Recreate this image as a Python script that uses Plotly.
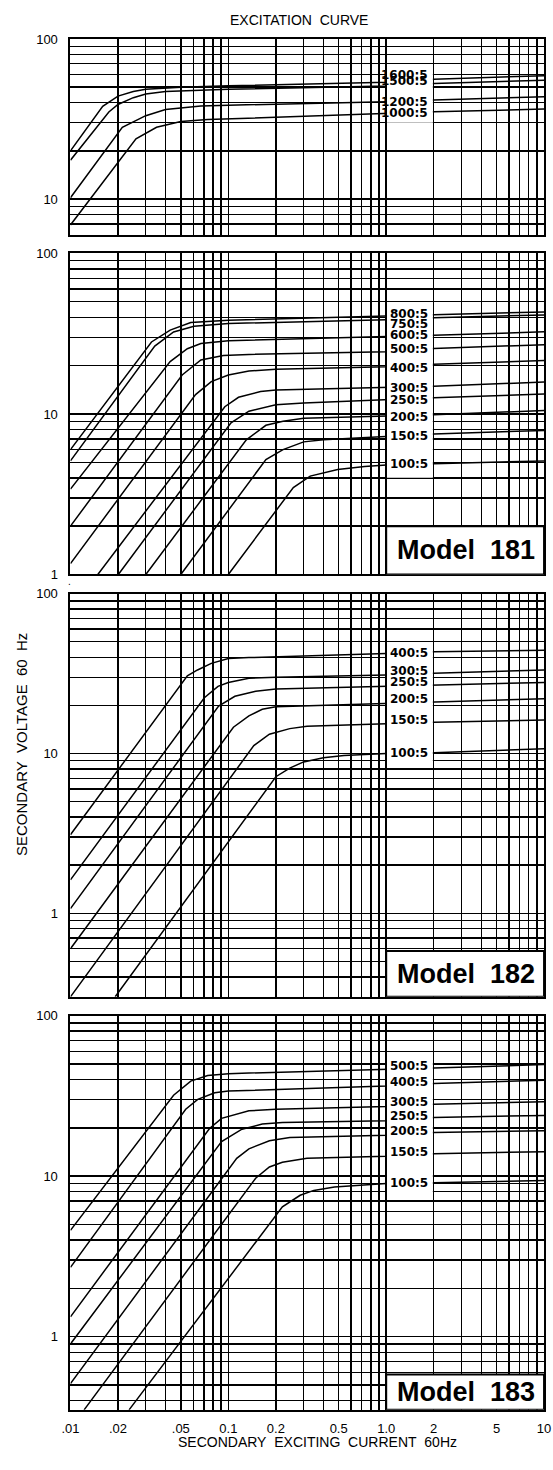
import numpy as np
import plotly.graph_objects as go

# ---------------- grid / tick definitions ----------------
X_GRID = [0.01, 0.02, 0.03, 0.04, 0.05, 0.06, 0.07, 0.08, 0.09,
          0.1, 0.2, 0.3, 0.4, 0.5, 0.6, 0.7, 0.8, 0.9,
          1, 2, 3, 4, 5, 6, 7, 8, 9, 10]
X_TEXT = ['.01', '.02', '', '', '.05', '', '', '', '',
          '0.1', '0.2', '', '', '0.5', '', '', '', '',
          '1.0', '2', '', '', '5', '', '', '', '', '10']
Y_GRID = [0.3, 0.4, 0.5, 0.6, 0.7, 0.8, 0.9,
          1, 2, 3, 4, 5, 6, 7, 8, 9,
          10, 20, 30, 40, 50, 60, 70, 80, 90, 100]
Y_TEXT = ['', '', '', '', '', '', '',
          '1', '', '', '', '', '', '', '', '',
          '10', '', '', '', '', '', '', '', '', '100']

# ---------------- panel 1 (top) ----------------
P1_1600_X = [0.01, 0.016, 0.02, 0.025, 0.03, 0.05, 0.1, 1, 2, 10]
P1_1600_Y = [20, 38, 44, 47, 48.5, 50, 51, 53.7, 56, 59]
P1_1500_X = [0.01, 0.0175, 0.02, 0.025, 0.03, 0.04, 0.1, 1, 2, 10]
P1_1500_Y = [17.5, 35, 39, 43, 45.3, 47, 48.5, 50.8, 52.7, 55.3]
P1_1200_X = [0.01, 0.0213, 0.03, 0.04, 0.067, 0.1, 1, 2, 10]
P1_1200_Y = [10.2, 28.1, 33.2, 36.3, 38.2, 38.6, 40.5, 41.6, 43.6]
P1_1000_X = [0.01, 0.026, 0.0351, 0.05, 0.074, 0.1, 1, 2, 10]
P1_1000_Y = [6.9, 23.8, 28.1, 30.5, 31.4, 31.7, 34.4, 35.1, 36.5]

P1_LABELS = ['1600:5', '1500:5', '1200:5', '1000:5']
P1_LABEL_Y = [60, 55, 40.5, 34.5]

# ---------------- panel 2 (Model 181) ----------------
P2_800_X = [0.01, 0.0326, 0.0428, 0.0578, 0.1, 1, 2, 10]
P2_800_Y = [6.0, 28.1, 33.3, 37.1, 38.4, 40.5, 41.5, 43.2]
P2_750_X = [0.01, 0.0342, 0.045, 0.0606, 0.1, 1, 2, 10]
P2_750_Y = [5.1, 26.5, 32.4, 35.2, 36.6, 38.7, 39.8, 41.4]
P2_600_X = [0.01, 0.0428, 0.055, 0.067, 0.1, 1, 2, 10]
P2_600_Y = [3.4, 21.2, 25.5, 27.5, 28.6, 30.2, 30.9, 32.5]
P2_500_X = [0.01, 0.051, 0.067, 0.093, 0.135, 1, 2, 10]
P2_500_Y = [2.0, 17.5, 21.7, 23.1, 23.5, 24.4, 25.6, 27.0]
P2_400_X = [0.01, 0.062, 0.078, 0.1, 0.135, 0.2, 1, 2, 10]
P2_400_Y = [1.17, 13.2, 15.9, 17.5, 18.5, 19.0, 19.7, 20.4, 21.5]
P2_300_X = [0.0149, 0.095, 0.116, 0.16, 0.2, 1, 2, 10]
P2_300_Y = [1.0, 11.1, 12.7, 13.8, 14.1, 14.7, 14.9, 15.8]
P2_250_X = [0.0201, 0.104, 0.135, 0.2, 0.3, 1, 2, 10]
P2_250_Y = [1.0, 8.8, 10.4, 11.4, 11.7, 12.3, 12.6, 13.3]
P2_200_X = [0.03, 0.13, 0.173, 0.222, 0.3, 1, 2, 10]
P2_200_Y = [1.0, 6.9, 8.5, 9.0, 9.4, 9.7, 9.9, 10.5]
P2_150_X = [0.05, 0.173, 0.222, 0.3, 0.4, 1, 2, 10]
P2_150_Y = [1.0, 5.2, 6.0, 6.7, 6.9, 7.2, 7.5, 7.9]
P2_100_X = [0.1, 0.258, 0.33, 0.493, 0.73, 1, 2, 10]
P2_100_Y = [1.0, 3.48, 4.1, 4.5, 4.7, 4.8, 4.9, 5.1]

P2_LABELS = ['800:5', '750:5', '600:5', '500:5', '400:5',
             '300:5', '250:5', '200:5', '150:5', '100:5']
P2_LABEL_Y = [42, 36.5, 31, 25.3, 19.3, 14.5, 12.3, 9.6, 7.3, 4.9]

# ---------------- panel 3 (Model 182) ----------------
P3_400_X = [0.01, 0.055, 0.0638, 0.078, 0.1, 0.135, 1, 2, 10]
P3_400_Y = [3.1, 30.6, 33.3, 36.6, 39.3, 39.8, 42.2, 43.3, 44.3]
P3_300_X = [0.01, 0.0705, 0.086, 0.1, 0.135, 0.2, 1, 2, 10]
P3_300_Y = [1.62, 22.3, 26.3, 27.8, 29.6, 30.0, 31.0, 31.8, 33.3]
P3_250_X = [0.01, 0.0868, 0.11, 0.149, 0.2, 1, 2, 10]
P3_250_Y = [1.07, 19.8, 22.8, 24.5, 25.3, 26.3, 26.9, 27.8]
P3_200_X = [0.01, 0.1077, 0.135, 0.164, 0.2, 1, 2, 10]
P3_200_Y = [0.6, 14.6, 17.2, 18.9, 19.6, 20.5, 21.0, 22.0]
P3_150_X = [0.01, 0.145, 0.182, 0.245, 0.315, 1, 2, 10]
P3_150_Y = [0.3, 11.2, 13.2, 14.3, 14.8, 15.3, 15.7, 16.2]
P3_100_X = [0.0192, 0.2, 0.245, 0.3, 0.4, 0.54, 1, 2, 10]
P3_100_Y = [0.3, 7.15, 8.1, 8.85, 9.4, 9.7, 10.0, 10.1, 10.7]

P3_LABELS = ['400:5', '300:5', '250:5', '200:5', '150:5', '100:5']
P3_LABEL_Y = [42.7, 32.7, 28.1, 21.8, 16.1, 10.1]

# ---------------- panel 4 (Model 183) ----------------
P4_500_X = [0.01, 0.045, 0.0578, 0.074, 0.1, 1, 2, 10]
P4_500_Y = [4.6, 31.9, 39.1, 42.3, 43.5, 46.1, 47.2, 49.5]
P4_400_X = [0.01, 0.0537, 0.064, 0.082, 0.1, 1, 2, 10]
P4_400_Y = [2.7, 26.1, 30.1, 33.1, 33.9, 36.4, 37.8, 39.6]
P4_300_X = [0.01, 0.076, 0.0906, 0.135, 0.2, 1, 2, 10]
P4_300_Y = [1.33, 19.8, 22.9, 25.5, 26.1, 27.1, 28.0, 29.1]
P4_250_X = [0.01, 0.0906, 0.122, 0.164, 0.22, 1, 2, 10]
P4_250_Y = [0.9, 16.4, 19.6, 21.1, 21.6, 22.1, 23.2, 23.9]
P4_200_X = [0.01, 0.113, 0.135, 0.182, 0.245, 1, 2, 10]
P4_200_Y = [0.51, 12.9, 14.8, 16.6, 17.4, 18.0, 18.7, 19.2]
P4_150_X = [0.0122, 0.149, 0.182, 0.22, 0.315, 1, 2, 10]
P4_150_Y = [0.35, 9.7, 11.4, 12.2, 12.9, 13.3, 13.8, 14.2]
P4_100_X = [0.0235, 0.22, 0.285, 0.348, 0.47, 1, 2, 10]
P4_100_Y = [0.35, 6.43, 7.6, 8.15, 8.55, 8.98, 9.1, 9.4]

P4_LABELS = ['500:5', '400:5', '300:5', '250:5', '200:5', '150:5', '100:5']
P4_LABEL_Y = [48.4, 38.7, 29.1, 23.7, 19.1, 14.1, 9.1]

MODEL_TEXT = [None, 'Model\u00a0\u00a0181', 'Model\u00a0\u00a0182', 'Model\u00a0\u00a0183']

# ---------------- layout geometry (pixels of the 553x1470 page) ----------------
W, H = 553, 1470
X_DOMAIN = [63.3 / W, 551.0 / W]
PANEL_PX = [(32.3, 230.0), (249.0, 573.3), (592.7, 1000.0), (1019.0, 1417.3)]
Y_MIN = [6, 1, 0.3, 0.35]
LABEL_BOX = [(30, 64), (4, 49), (8.3, 49), (7.5, 53)]
MODEL_BOX = [None, (1, 2), (0.3, 0.58), (0.35, 0.58)]

PANELS = [
    [(P1_1600_X, P1_1600_Y), (P1_1500_X, P1_1500_Y), (P1_1200_X, P1_1200_Y), (P1_1000_X, P1_1000_Y)],
    [(P2_800_X, P2_800_Y), (P2_750_X, P2_750_Y), (P2_600_X, P2_600_Y), (P2_500_X, P2_500_Y),
     (P2_400_X, P2_400_Y), (P2_300_X, P2_300_Y), (P2_250_X, P2_250_Y), (P2_200_X, P2_200_Y),
     (P2_150_X, P2_150_Y), (P2_100_X, P2_100_Y)],
    [(P3_400_X, P3_400_Y), (P3_300_X, P3_300_Y), (P3_250_X, P3_250_Y), (P3_200_X, P3_200_Y),
     (P3_150_X, P3_150_Y), (P3_100_X, P3_100_Y)],
    [(P4_500_X, P4_500_Y), (P4_400_X, P4_400_Y), (P4_300_X, P4_300_Y), (P4_250_X, P4_250_Y),
     (P4_200_X, P4_200_Y), (P4_150_X, P4_150_Y), (P4_100_X, P4_100_Y)],
]
LABELS = [(P1_LABELS, P1_LABEL_Y), (P2_LABELS, P2_LABEL_Y), (P3_LABELS, P3_LABEL_Y), (P4_LABELS, P4_LABEL_Y)]

FONT = 'Liberation Sans, Arial, Helvetica, sans-serif'
LABEL_FONT = 'DejaVu Sans, Liberation Sans, sans-serif'

fig = go.Figure()
layout = dict(
    width=W, height=H, autosize=False,
    margin=dict(l=0, r=0, t=0, b=0),
    paper_bgcolor='white', plot_bgcolor='white',
    showlegend=False,
    font=dict(family=FONT, size=12, color='black'),
)

annotations = []
shapes = []

for i in range(4):
    n = i + 1
    xa = 'x' if n == 1 else f'x{n}'
    ya = 'y' if n == 1 else f'y{n}'
    top, bot = PANEL_PX[i]
    ydom = [1 - bot / H, 1 - top / H]
    layout[f'xaxis{"" if n == 1 else n}'] = dict(
        type='log', range=[-2, 1], domain=X_DOMAIN, anchor=ya,
        tickmode='array', tickvals=X_GRID, ticktext=X_TEXT,
        showticklabels=(n == 4), ticks='', ticklabelstandoff=6,
        ticklabeloverflow='allow',
        tickfont=dict(size=13, family=FONT, color='black'),
        showgrid=True, gridcolor='black', gridwidth=1.4,
        showline=True, mirror=True, linecolor='black', linewidth=2,
        zeroline=False, fixedrange=True,
    )
    layout[f'yaxis{"" if n == 1 else n}'] = dict(
        type='log', range=[np.log10(Y_MIN[i]), 2], domain=ydom, anchor=xa,
        tickmode='array', tickvals=Y_GRID, ticktext=Y_TEXT,
        ticks='', ticklabelstandoff=8,
        tickfont=dict(size=13, family=FONT, color='black'),
        showgrid=True, gridcolor='black', gridwidth=1.4,
        showline=True, mirror=True, linecolor='black', linewidth=2,
        zeroline=False, fixedrange=True,
    )
    for cx, cy in PANELS[i]:
        fig.add_trace(go.Scatter(x=cx, y=cy, mode='lines', xaxis=xa, yaxis=ya,
                                 line=dict(color='black', width=1.5), hoverinfo='skip'))
    # white box behind the ratio labels
    y0, y1 = LABEL_BOX[i]
    shapes.append(dict(type='rect', xref=xa, yref=ya, x0=1.012, x1=1.975, y0=y0, y1=y1,
                       fillcolor='white', line=dict(width=0), layer='above'))
    labs, labys = LABELS[i]
    for t, ly in zip(labs, labys):
        annotations.append(dict(xref=xa, yref=ya, x=np.log10(1.9), y=np.log10(ly), text=t,
                                showarrow=False, xanchor='right', yanchor='middle',
                                font=dict(family=LABEL_FONT, size=12, color='black', weight='bold')))
    if MODEL_BOX[i] is not None:
        m0, m1 = MODEL_BOX[i]
        shapes.append(dict(type='rect', xref=xa, yref=ya, x0=1.0, x1=10, y0=m0, y1=m1,
                           fillcolor='white', line=dict(color='black', width=2), layer='above'))
        annotations.append(dict(xref=xa, yref=ya, x=np.log10(3.2),
                                y=(np.log10(m0) + np.log10(m1)) / 2, text=MODEL_TEXT[i],
                                showarrow=False, xanchor='center', yanchor='middle',
                                font=dict(family=FONT, size=27, color='black', weight='bold')))

# titles
annotations.append(dict(xref='paper', yref='paper', x=299 / W, y=1 - 13 / H,
                        text='EXCITATION\u00a0\u00a0CURVE', showarrow=False,
                        xanchor='center', yanchor='middle',
                        font=dict(family=FONT, size=14, color='black')))
annotations.append(dict(xref='paper', yref='paper', x=318 / W, y=1 - 1450 / H,
                        text='SECONDARY\u00a0\u00a0EXCITING\u00a0\u00a0CURRENT\u00a0\u00a060Hz',
                        showarrow=False, xanchor='center', yanchor='middle',
                        font=dict(family=FONT, size=14, color='black')))
annotations.append(dict(xref='paper', yref='paper', x=13 / W, y=1 - 745 / H,
                        text='SECONDARY\u00a0\u00a0VOLTAGE\u00a0\u00a060\u00a0\u00a0Hz',
                        showarrow=False, xanchor='center', yanchor='middle', textangle=-90,
                        font=dict(family=FONT, size=15, color='black')))
annotations.append(dict(xref='paper', yref='paper', x=62 / W, y=1 - 580 / H, text='.',
                        showarrow=False, xanchor='center', yanchor='middle',
                        font=dict(family=FONT, size=10, color='black')))

layout['annotations'] = annotations
layout['shapes'] = shapes
fig.update_layout(**layout)
fig.write_html('out.html', config={'displayModeBar': False, 'staticPlot': True},
               post_script="document.body.style.margin='0';document.body.style.overflow='hidden';")
